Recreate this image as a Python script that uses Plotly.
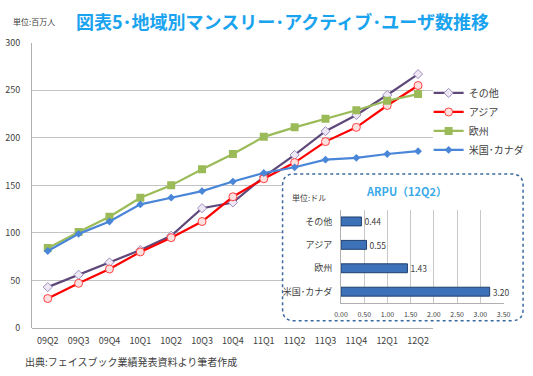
import plotly.graph_objects as go

quarters = ["09Q2", "09Q3", "09Q4", "10Q1", "10Q2", "10Q3", "10Q4",
            "11Q1", "11Q2", "11Q3", "11Q4", "12Q1", "12Q2"]
other = [43, 56, 69, 82, 97, 126, 132, 159, 182, 207, 224, 245, 267]
asia = [31, 47, 62, 80, 95, 112, 138, 157, 174, 196, 211, 234, 255]
europe = [84, 101, 117, 137, 150, 167, 183, 201, 211, 220, 229, 239, 246]
us_canada = [81, 99, 112, 130, 137, 144, 154, 163, 169, 177, 179, 183, 186]

arpu_regions = ["米国･カナダ", "欧州", "アジア", "その他"]
arpu_values = [3.20, 1.43, 0.55, 0.44]

W, H = 533, 376
FONT = "Noto Sans CJK JP"


def px(x):
    return x / W


def py(y):
    return 1 - y / H


fig = go.Figure()

fig.add_trace(go.Scatter(
    x=quarters, y=other, name="その他", mode="lines+markers",
    line=dict(color="#5F497A", width=2.2),
    marker=dict(symbol="diamond", size=7, color="#EEE8F4",
                line=dict(color="#A08CC0", width=1))))
fig.add_trace(go.Scatter(
    x=quarters, y=asia, name="アジア", mode="lines+markers",
    line=dict(color="#FF0000", width=2.2),
    marker=dict(symbol="circle", size=8, color="#FCE0E0",
                line=dict(color="#FF4040", width=1))))
fig.add_trace(go.Scatter(
    x=quarters, y=europe, name="欧州", mode="lines+markers",
    line=dict(color="#9BBB59", width=2.2),
    marker=dict(symbol="square", size=8, color="#9BBB59")))
fig.add_trace(go.Scatter(
    x=quarters, y=us_canada, name="米国･カナダ", mode="lines+markers",
    line=dict(color="#4A86D8", width=2.2),
    marker=dict(symbol="diamond", size=6, color="#4A86D8")))

fig.add_trace(go.Bar(
    x=arpu_values, y=arpu_regions, orientation="h",
    xaxis="x2", yaxis="y2", showlegend=False,
    marker=dict(color="#3E72B8", line=dict(color="#1F3F6E", width=1)),
    text=[f"{v:.2f}" for v in arpu_values], textposition="outside",
    constraintext="none",
    textfont=dict(size=8.5, color="#404040", family=FONT),
    cliponaxis=False))

box_l, box_r, box_t, box_b = 283, 530, 173, 325
r = 12
L, R, T, B = px(box_l), px(box_r), py(box_t), py(box_b)
rx, ry = r / W, r / H
path = (f"M{L + rx},{T} L{R - rx},{T} Q{R},{T} {R},{T - ry} "
        f"L{R},{B + ry} Q{R},{B} {R - rx},{B} "
        f"L{L + rx},{B} Q{L},{B} {L},{B + ry} "
        f"L{L},{T - ry} Q{L},{T} {L + rx},{T} Z")

shapes = [
    # white cover hiding gridlines of main chart inside the inset box
    dict(type="rect", xref="x", yref="y", layer="between",
         x0=(box_l - 26) / (412 / 13) - 0.5, x1=14,
         y0=(332.5 - box_b) / 0.985, y1=(332.5 - box_t) / 0.985,
         fillcolor="white", line=dict(width=0)),
    dict(type="path", xref="paper", yref="paper", path=path, layer="above",
         line=dict(color="#3A6A9E", width=1.5, dash="dot"),
         fillcolor="rgba(0,0,0,0)"),
]

annotations = [
    dict(text="単位:百万人", x=px(4), y=py(15), xref="paper", yref="paper",
         xanchor="left", yanchor="middle", showarrow=False,
         font=dict(size=8, color="#404040", family=FONT)),
    dict(text="<b>図表5･地域別マンスリー･アクティブ･ユーザ数推移</b>",
         x=px(69), y=py(15), xref="paper", yref="paper",
         xanchor="left", yanchor="middle", showarrow=False,
         font=dict(size=18, color="#1AA3EE", family=FONT)),
    dict(text="出典:フェイスブック業績発表資料より筆者作成",
         x=px(16), y=py(367), xref="paper", yref="paper",
         xanchor="left", yanchor="middle", showarrow=False,
         font=dict(size=10, color="#404040", family=FONT)),
    dict(text="<b>ARPU（12Q2）</b>", x=px(410), y=py(191),
         xref="paper", yref="paper", xanchor="center", yanchor="middle",
         showarrow=False, font=dict(size=11, color="#3AAAE8", family=FONT)),
    dict(text="単位:ドル", x=px(291), y=py(197), xref="paper", yref="paper",
         xanchor="left", yanchor="middle", showarrow=False,
         font=dict(size=8, color="#404040", family=FONT)),
]

fig.update_layout(
    width=W, height=H,
    margin=dict(l=0, r=0, t=0, b=0),
    paper_bgcolor="white", plot_bgcolor="white",
    font=dict(family=FONT, size=9, color="#404040"),
    showlegend=True,
    legend=dict(x=px(433), y=py(74), xanchor="left", yanchor="top",
                bgcolor="rgba(0,0,0,0)", font=dict(size=10, color="#404040"),
                tracegroupgap=0, itemwidth=30),
    xaxis=dict(domain=[px(26), px(438)], type="category",
               range=[-0.5, 12.5], showgrid=False, showline=False,
               zeroline=False, ticks="", ticklabelstandoff=6,
               tickfont=dict(size=9, color="#404040")),
    yaxis=dict(domain=[py(332.5), py(37)], range=[0, 300], dtick=50,
               showgrid=True, gridcolor="#C3C3C3", gridwidth=1.3,
               showline=True, linecolor="#B0B0B0", linewidth=1.3,
               zeroline=True, zerolinecolor="#B0B0B0", zerolinewidth=1.3,
               ticks="", ticklabelstandoff=9,
               tickfont=dict(size=9, color="#404040")),
    xaxis2=dict(domain=[px(343), px(510)], anchor="y2", range=[0, 3.5],
                dtick=0.5, tickformat=".2f", showgrid=True,
                gridcolor="#C8C8C8", gridwidth=1, showline=True,
                linecolor="#B0B0B0", zeroline=False, ticks="",
                ticklabelstandoff=4, tickfont=dict(size=7, color="#404040")),
    yaxis2=dict(domain=[py(307), py(210)], anchor="x2", type="category",
                categoryorder="array", categoryarray=arpu_regions,
                showline=True, linecolor="#B0B0B0", showgrid=False,
                ticks="", ticklabelstandoff=6,
                tickfont=dict(size=9, color="#404040")),
    bargap=0.62,
    shapes=shapes,
    annotations=annotations,
)

fig.write_html("out.html",
               config={"displayModeBar": False},
               post_script="document.body.style.margin='0px';"
                           "document.body.style.overflow='hidden';")
